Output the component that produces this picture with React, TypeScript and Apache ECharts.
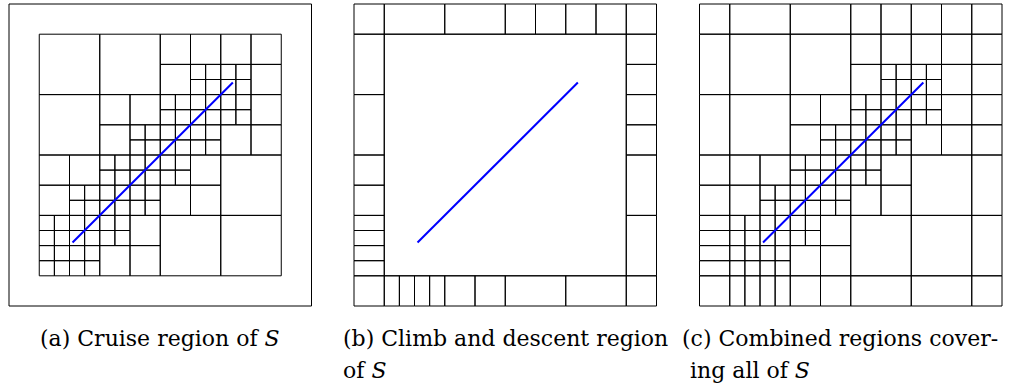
import React, { useEffect, useRef } from "react";
import * as echarts from "echarts";

// Leaf cells of the cruise region, [x, y, size] in grid units (y grows downward)
const cruiseCells: number[][] = [
  [0, 0, 4], [4, 0, 4],
  [8, 0, 2], [10, 0, 2], [12, 0, 2], [14, 0, 2],
  [8, 2, 2], [10, 2, 1], [11, 2, 1], [10, 3, 1], [11, 3, 1],
  [12, 2, 1], [13, 2, 1], [12, 3, 1], [13, 3, 1], [14, 2, 2],
  [0, 4, 4],
  [4, 4, 2], [6, 4, 2], [4, 6, 2], [6, 6, 1], [7, 6, 1], [6, 7, 1], [7, 7, 1],
  [8, 4, 1], [9, 4, 1], [8, 5, 1], [9, 5, 1], [10, 4, 1], [11, 4, 1], [10, 5, 1], [11, 5, 1],
  [8, 6, 1], [9, 6, 1], [8, 7, 1], [9, 7, 1], [10, 6, 1], [11, 6, 1], [10, 7, 1], [11, 7, 1],
  [12, 4, 1], [13, 4, 1], [12, 5, 1], [13, 5, 1], [14, 4, 2], [12, 6, 2], [14, 6, 2],
  [0, 8, 2], [2, 8, 2], [0, 10, 2], [2, 10, 1], [3, 10, 1], [2, 11, 1], [3, 11, 1],
  [4, 8, 1], [5, 8, 1], [4, 9, 1], [5, 9, 1], [6, 8, 1], [7, 8, 1], [6, 9, 1], [7, 9, 1],
  [4, 10, 1], [5, 10, 1], [4, 11, 1], [5, 11, 1], [6, 10, 1], [7, 10, 1], [6, 11, 1], [7, 11, 1],
  [8, 8, 1], [9, 8, 1], [8, 9, 1], [9, 9, 1], [10, 8, 2], [8, 10, 2], [10, 10, 2],
  [12, 8, 4],
  [0, 12, 1], [1, 12, 1], [2, 12, 1], [3, 12, 1],
  [0, 13, 1], [1, 13, 1], [2, 13, 1], [3, 13, 1],
  [0, 14, 1], [1, 14, 1], [2, 14, 1], [3, 14, 1],
  [0, 15, 1], [1, 15, 1], [2, 15, 1], [3, 15, 1],
  [4, 12, 1], [5, 12, 1], [4, 13, 1], [5, 13, 1], [6, 12, 2], [4, 14, 2], [6, 14, 2],
  [8, 12, 4], [12, 12, 4],
];

// Climb/descent ring cells, [x, y, w, h]
const ringCells: number[][] = [
  [-2, -2, 2, 2], [0, -2, 4, 2], [4, -2, 4, 2], [8, -2, 2, 2], [10, -2, 2, 2], [12, -2, 2, 2], [14, -2, 2, 2], [16, -2, 2, 2],
  [-2, 0, 2, 4], [-2, 4, 2, 4], [-2, 8, 2, 2], [-2, 10, 2, 2], [-2, 12, 2, 1], [-2, 13, 2, 1], [-2, 14, 2, 1], [-2, 15, 2, 1],
  [16, 0, 2, 2], [16, 2, 2, 2], [16, 4, 2, 2], [16, 6, 2, 2], [16, 8, 2, 4], [16, 12, 2, 4],
  [-2, 16, 2, 2], [0, 16, 1, 2], [1, 16, 1, 2], [2, 16, 1, 2], [3, 16, 1, 2], [4, 16, 2, 2], [6, 16, 2, 2], [8, 16, 4, 2], [12, 16, 4, 2], [16, 16, 2, 2],
];

const frameCell: number[][] = [[-2, -2, 20, 20]];
const innerCell: number[][] = [[0, 0, 16, 16]];

// Straight trajectory inside S
const trajectory: number[][] = [[2.2, 13.8], [12.8, 3.2]];

const captionA = "(a) Cruise region of {i|S}";
const captionB1 = "(b) Climb and descent region";
const captionB2 = "of {i|S}";
const captionC1 = "(c) Combined regions cover-";
const captionC2 = "ing all of {i|S}";

const gridLefts = [9, 354, 699.5];

function renderCell(_params: any, api: any) {
  const x = api.value(0), y = api.value(1), w = api.value(2), h = api.value(3);
  const p0 = api.coord([x, y]);
  const p1 = api.coord([x + w, y + h]);
  return {
    type: "rect",
    shape: {
      x: Math.min(p0[0], p1[0]),
      y: Math.min(p0[1], p1[1]),
      width: Math.abs(p1[0] - p0[0]),
      height: Math.abs(p1[1] - p0[1]),
    },
    style: { fill: "none", stroke: "#000", lineWidth: 1 },
  };
}

const squares = (cells: number[][]) => cells.map((c) => [c[0], c[1], c[2], c[2]]);

export default function App() {
  const ref = useRef<HTMLDivElement>(null);
  useEffect(() => {
    if (!ref.current) return;
    const chart = echarts.init(ref.current, undefined, { renderer: "svg" });
    const panels = [
      [...frameCell, ...squares(cruiseCells)],
      [...ringCells, ...innerCell],
      [...ringCells, ...squares(cruiseCells)],
    ];
    const grids = gridLefts.map((l) => ({ left: l, top: 4, width: 302.5, height: 302 }));
    const xAxes = gridLefts.map((_, i) => ({ type: "value", gridIndex: i, min: -2, max: 18, show: false }));
    const yAxes = gridLefts.map((_, i) => ({ type: "value", gridIndex: i, min: -2, max: 18, inverse: true, show: false }));
    const series: any[] = [];
    panels.forEach((cells, i) => {
      series.push({
        type: "custom",
        xAxisIndex: i,
        yAxisIndex: i,
        renderItem: renderCell,
        data: cells,
        clip: false,
        silent: true,
      });
      series.push({
        type: "line",
        xAxisIndex: i,
        yAxisIndex: i,
        data: trajectory,
        symbol: "none",
        lineStyle: { color: "#0000ff", width: 2 },
        silent: true,
        z: 5,
      });
    });
    const font = { fontFamily: "DejaVu Serif", fontSize: 22, fill: "#000" };
    const rich = { i: { fontFamily: "DejaVu Serif", fontSize: 22, fontStyle: "italic", fill: "#000" } };
    const txt = (text: string, x: number, y: number) => ({
      type: "text",
      x,
      y,
      style: { ...font, text, rich, verticalAlign: "middle", align: "left" },
    });
    chart.setOption({
      animation: false,
      grid: grids,
      xAxis: xAxes,
      yAxis: yAxes,
      series,
      graphic: [
        txt(captionA, 40, 338),
        txt(captionB1, 343, 338),
        txt(captionB2, 343, 370),
        txt(captionC1, 682, 338),
        txt(captionC2, 690, 370),
      ],
    });
    return () => chart.dispose();
  }, []);
  return (
    <div
      ref={ref}
      style={{ position: "fixed", left: 0, top: 0, width: 1028, height: 385, background: "#fff" }}
    />
  );
}
